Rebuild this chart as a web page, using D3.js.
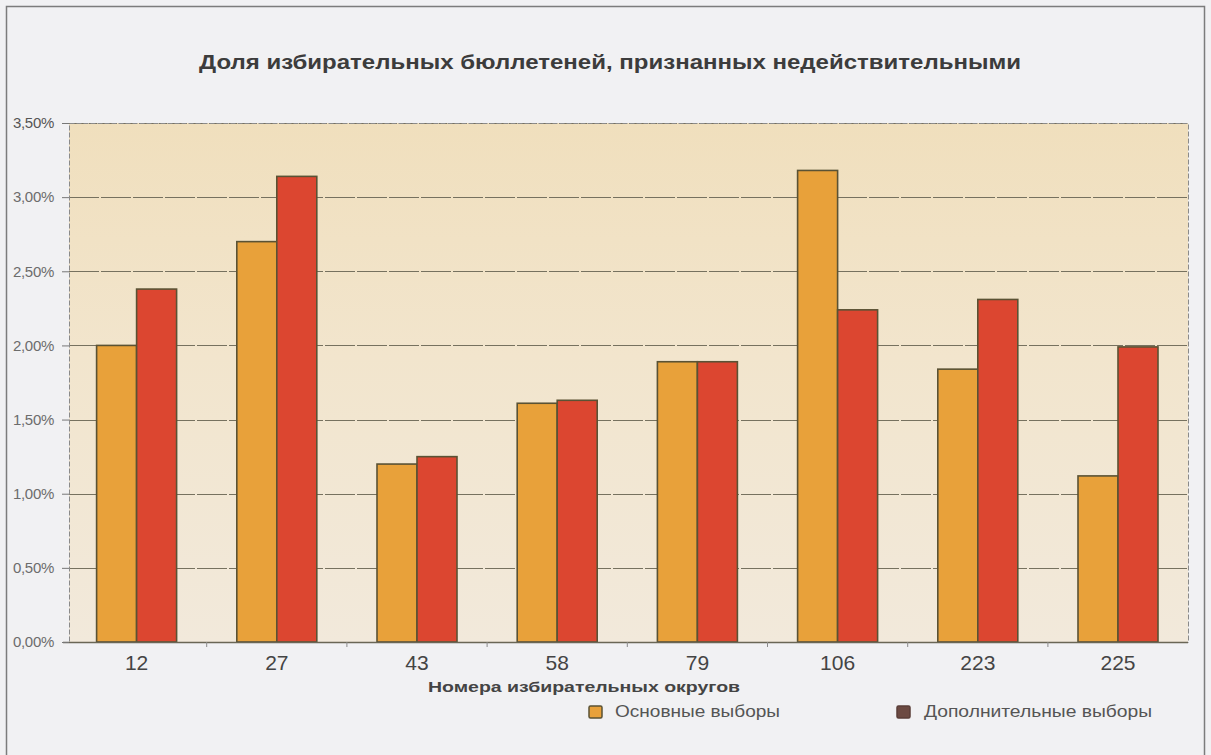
<!DOCTYPE html>
<html>
<head>
<meta charset="utf-8">
<script src="https://cdn.jsdelivr.net/npm/d3@7"></script>
<style>
  html, body { margin: 0; padding: 0; background: #f1f1f3; }
  svg { display: block; }
</style>
</head>
<body>
<svg id="chart" width="1211" height="755"></svg>
<script>
// ---- data ----
const districts = ["12", "27", "43", "58", "79", "106", "223", "225"];
const seriesNames = ["Основные выборы", "Дополнительные выборы"];
const mainElection = [2.00, 2.70, 1.20, 1.61, 1.89, 3.18, 1.84, 1.12];
const extraElection = [2.38, 3.14, 1.25, 1.63, 1.89, 2.24, 2.31, 1.99];
const yTicks = [0, 0.5, 1.0, 1.5, 2.0, 2.5, 3.0, 3.5];
const titleText = "Доля избирательных бюллетеней, признанных недействительными";
const xAxisTitle = "Номера избирательных округов";

const rows = districts.map((d, i) => ({ d, vals: [mainElection[i], extraElection[i]] }));

const svg = d3.select("#chart");
const W = 1211, H = 755;
const plot = { left: 69, right: 1188, top: 123, bottom: 642 };
const colors = ["#e8a13a", "#dc4630"];
const legendColors = ["#e8a13a", "#6c4a42"];

// defs
const defs = svg.append("defs");
const grad = defs.append("linearGradient").attr("id", "bg").attr("x1", 0).attr("y1", 0).attr("x2", 0).attr("y2", 1);
grad.append("stop").attr("offset", "0%").attr("stop-color", "#f0dfbd");
grad.append("stop").attr("offset", "45%").attr("stop-color", "#f2e5cd");
grad.append("stop").attr("offset", "100%").attr("stop-color", "#f2e9db");

// page background + frame
svg.append("rect").attr("x", 0).attr("y", 0).attr("width", W).attr("height", H).attr("fill", "#f1f1f3");
svg.append("rect").attr("x", 6.5).attr("y", 6.5).attr("width", 1198).attr("height", 760)
  .attr("fill", "none").attr("stroke", "#7c7c7c").attr("stroke-width", 1.5);

// scales
const x = d3.scaleBand().domain(districts).range([66.5, 1188.1]).padding(0);
const bw = x.bandwidth();
const xs = d3.scaleBand().domain([0, 1]).range([bw / 2 - 40, bw / 2 + 40]).padding(0);
const y = d3.scaleLinear().domain([0, 3.5]).range([plot.bottom, plot.top]);

// plot background
svg.append("rect").attr("x", plot.left).attr("y", plot.top)
  .attr("width", plot.right - plot.left).attr("height", plot.bottom - plot.top)
  .attr("fill", "url(#bg)");

// gridlines
svg.append("g").selectAll("line").data(yTicks.filter(t => t > 0)).join("line")
  .attr("x1", plot.left).attr("x2", plot.right)
  .attr("y1", d => Math.round(y(d)) + 0.5).attr("y2", d => Math.round(y(d)) + 0.5)
  .attr("stroke", "#76715f").attr("stroke-width", 1)
  .attr("stroke-dasharray", d => d === 3.5 ? "8,2" : "30,2");

// plot border (dashed)
svg.append("rect").attr("x", plot.left + 0.5).attr("y", plot.top + 0.5)
  .attr("width", plot.right - plot.left).attr("height", plot.bottom - plot.top)
  .attr("fill", "none").attr("stroke", "#8a8a8a").attr("stroke-width", 1).attr("stroke-dasharray", "5,2");

// bars
const groups = svg.append("g").selectAll("g").data(rows).join("g")
  .attr("transform", r => `translate(${x(r.d)},0)`);
groups.selectAll("rect").data(r => r.vals.map((v, k) => ({ v, k }))).join("rect")
  .attr("x", d => xs(d.k))
  .attr("y", d => y(d.v))
  .attr("width", xs.bandwidth())
  .attr("height", d => y(0) - y(d.v))
  .attr("fill", d => colors[d.k])
  .attr("stroke", "#5a5234").attr("stroke-width", 1.6);

// x axis
const xAxis = d3.axisBottom(x).tickSize(0).tickPadding(13);
const gx = svg.append("g").attr("transform", `translate(0,${plot.bottom})`).call(xAxis);
gx.select(".domain").remove();
gx.selectAll("text").attr("font-family", "Liberation Sans, Arial, sans-serif")
  .attr("font-size", 21).attr("fill", "#444");
svg.append("line").attr("x1", plot.left - 6).attr("x2", plot.right)
  .attr("y1", plot.bottom + 0.5).attr("y2", plot.bottom + 0.5)
  .attr("stroke", "#6a6655").attr("stroke-width", 1.3);
// category separators (small ticks)
svg.append("g").selectAll("line").data(districts.slice(1)).join("line")
  .attr("x1", d => x(d)).attr("x2", d => x(d))
  .attr("y1", plot.bottom).attr("y2", plot.bottom + 5)
  .attr("stroke", "#8a8a8a").attr("stroke-width", 1);

// y axis
const yAxis = d3.axisLeft(y).tickValues(yTicks).tickSize(7).tickPadding(8)
  .tickFormat(d => d3.format(".2f")(d).replace(".", ",") + "%");
const gy = svg.append("g").attr("transform", `translate(${plot.left},0)`).call(yAxis);
gy.select(".domain").remove();
gy.selectAll(".tick line").attr("stroke", "#777");
gy.selectAll("text").attr("font-family", "Liberation Sans, Arial, sans-serif")
  .attr("font-size", 15).attr("fill", d => d === 3.5 ? "#555" : "#6c6c6c")
  .attr("letter-spacing", "-0.3px");

// title
svg.append("text").attr("x", 610).attr("y", 69).attr("text-anchor", "middle")
  .attr("font-family", "Liberation Sans, Arial, sans-serif").attr("font-weight", "bold")
  .attr("font-size", 20).attr("fill", "#3c3c3c")
  .attr("textLength", 822).attr("lengthAdjust", "spacingAndGlyphs")
  .text(titleText);

// x axis title
svg.append("text").attr("x", 584).attr("y", 692).attr("text-anchor", "middle")
  .attr("font-family", "Liberation Sans, Arial, sans-serif").attr("font-weight", "bold")
  .attr("font-size", 15).attr("fill", "#444")
  .attr("textLength", 312).attr("lengthAdjust", "spacingAndGlyphs")
  .text(xAxisTitle);

// legend
const legendItems = [
  { name: seriesNames[0], sx: 589, tx: 615, tw: 165 },
  { name: seriesNames[1], sx: 897, tx: 924, tw: 228 }
];
const lg = svg.append("g").selectAll("g").data(legendItems).join("g");
lg.append("rect").attr("x", d => d.sx).attr("y", 706).attr("width", 13).attr("height", 12)
  .attr("rx", 1.5)
  .attr("fill", (d, i) => legendColors[i]).attr("stroke", (d, i) => i === 0 ? "#5a5234" : "#5a3e38").attr("stroke-width", 1.5);
lg.append("text").attr("x", d => d.tx).attr("y", 717)
  .attr("font-family", "Liberation Sans, Arial, sans-serif").attr("font-size", 16).attr("fill", "#555")
  .attr("textLength", d => d.tw).attr("lengthAdjust", "spacingAndGlyphs")
  .text(d => d.name);
</script>
</body>
</html>
